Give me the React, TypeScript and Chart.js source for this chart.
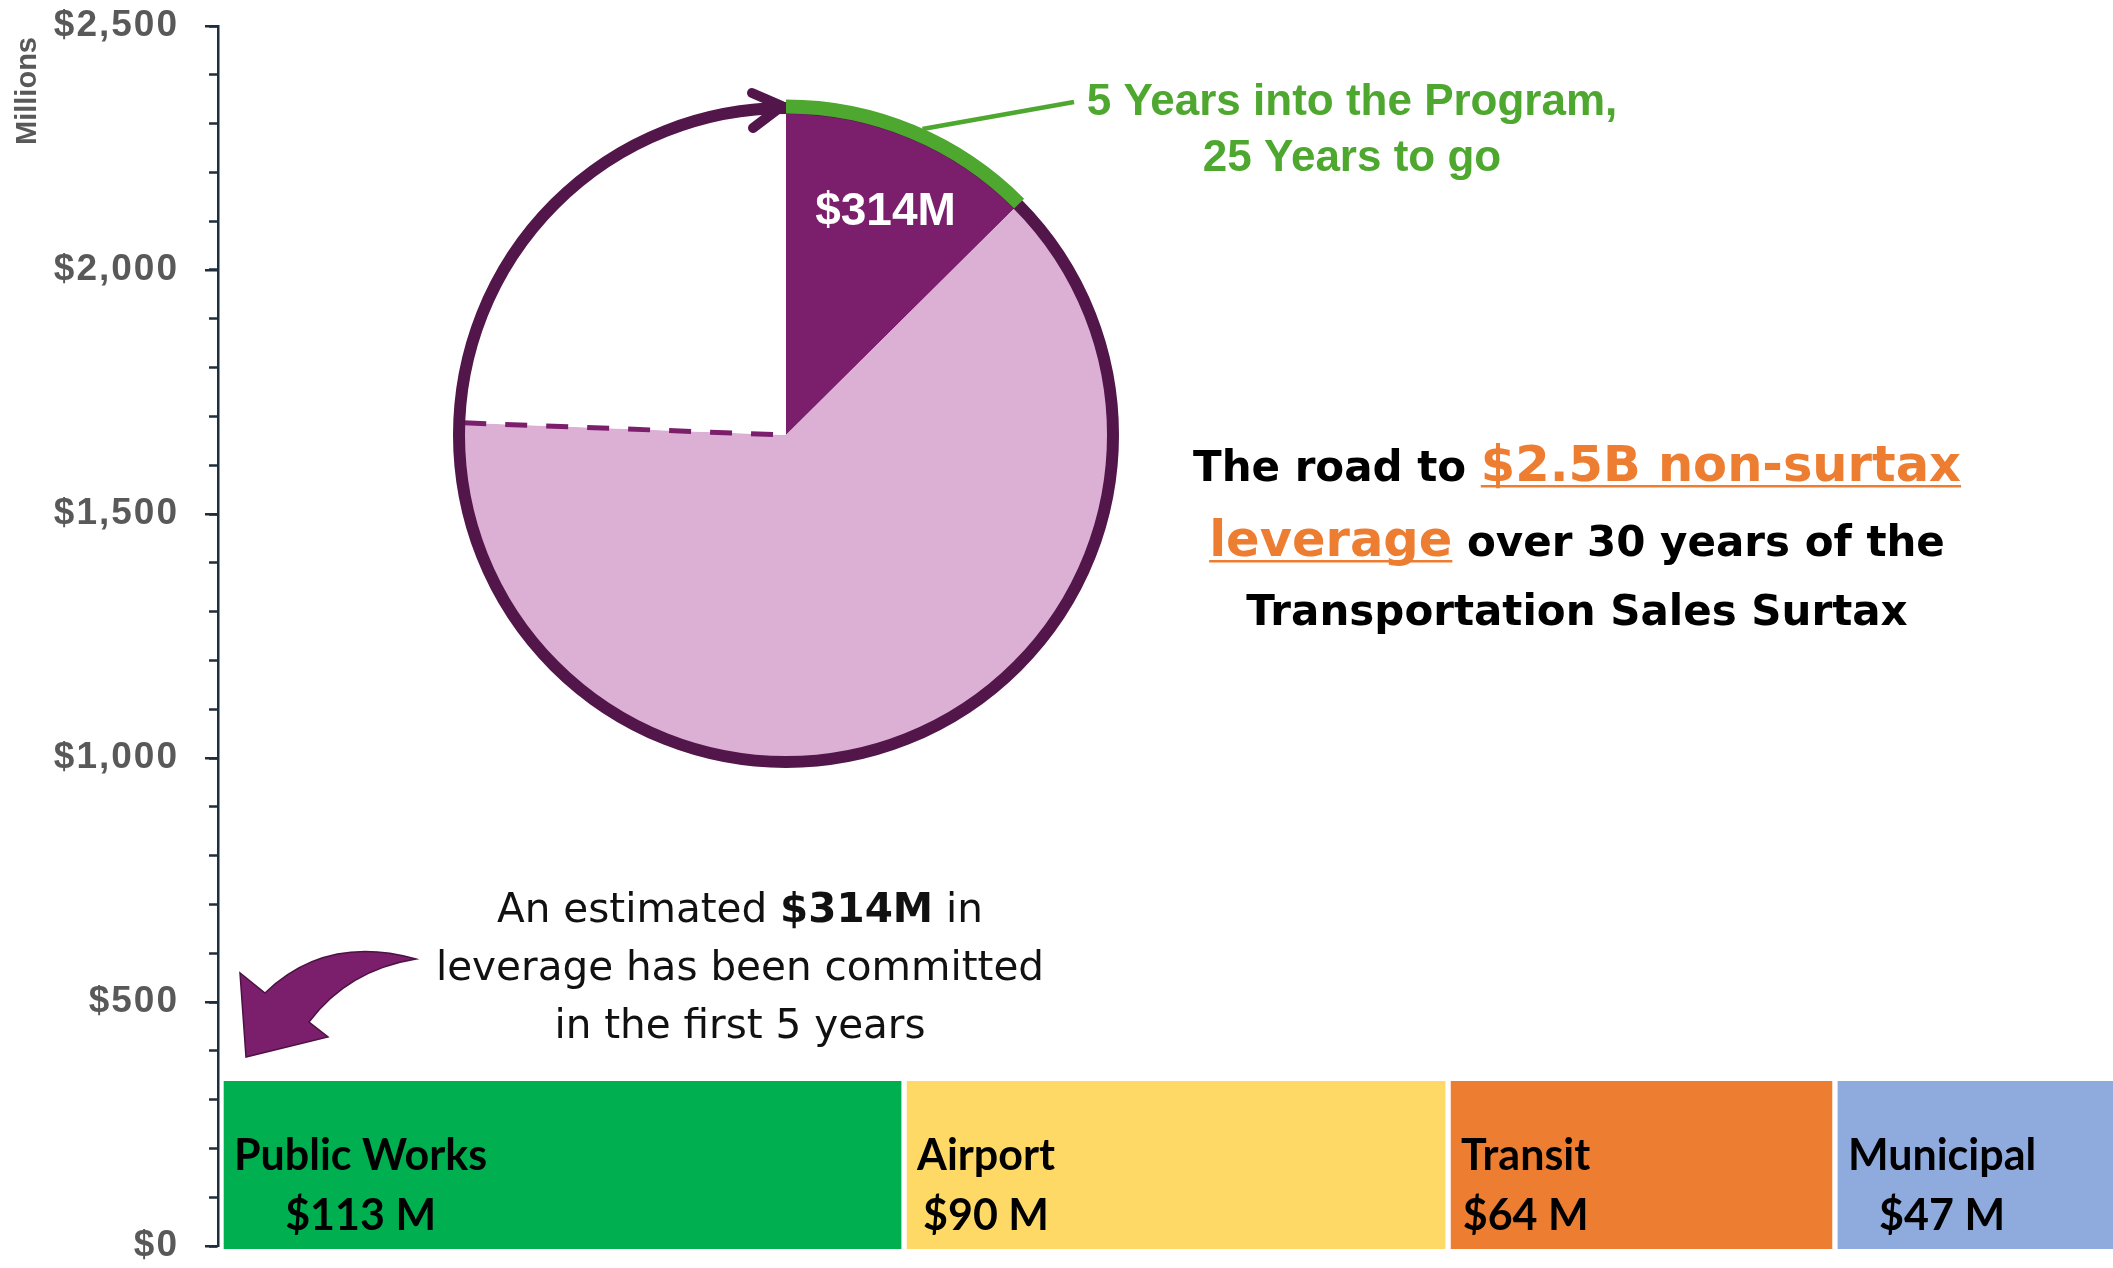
import React, { useEffect, useRef } from 'react';
import { Chart, registerables } from 'chart.js';

Chart.register(...registerables);

const W = 2113;
const H = 1268;

// ---------- data ----------
const BAR_CATEGORIES = ['Public Works', 'Airport', 'Transit', 'Municipal'];
const BAR_VALUES = [113, 90, 64, 47]; // $ millions
const BAR_COLORS = ['#00B050', '#FFD966', '#ED7D31', '#8FAADC'];

const PIE_LABELS = ['Committed (first 5 years)', 'Projected', 'Remaining'];
const PIE_VALUES = [314, 1576, 610]; // $ millions, of $2.5B
const PIE_COLORS = ['#7B1F6C', '#DCB0D5', '#FFFFFF'];

const AXIS_MIN = 0;
const AXIS_MAX = 2500;
const AXIS_MAJOR_STEP = 500;
const AXIS_MINOR_STEP = 100;
const AXIS_TITLE = 'Millions';

// vertical level (in axis units) of the centre of the committed-leverage strip
const BAR_ROW_LEVEL = 166;

const TITLE_LINES = [
  [
    { text: 'The road to ', accent: false },
    { text: '$2.5B non-surtax', accent: true },
  ],
  [
    { text: 'leverage', accent: true },
    { text: ' over 30 years of the', accent: false },
  ],
  [{ text: 'Transportation Sales Surtax', accent: false }],
];

const NOTE_LINES = [
  [
    { text: 'An estimated ', bold: false },
    { text: '$314M', bold: true },
    { text: ' in', bold: false },
  ],
  [{ text: 'leverage has been committed', bold: false }],
  [{ text: 'in the first 5 years', bold: false }],
];

const PROGRESS_LINES = ['5 Years into the Program,', '25 Years to go'];

// ---------- styles ----------
const FONT_ARIAL = "'Liberation Sans', Arial, sans-serif";
const FONT_DEJAVU = "'DejaVu Sans', sans-serif";
const FONT_LATO = "Lato, 'Liberation Sans', sans-serif";
const AXIS_COLOR = '#1F2E3D';
const TICK_TEXT = '#595959';
const RING_COLOR = '#52164B';
const GREEN = '#4EA72E';
const ORANGE = '#ED7D31';

type Run = { text: string; font: string; color: string; underline?: boolean };

function drawRuns(ctx: CanvasRenderingContext2D, runs: Run[], cx: number, baseline: number) {
  const widths = runs.map((r) => {
    ctx.font = r.font;
    return ctx.measureText(r.text).width;
  });
  const total = widths.reduce((a, b) => a + b, 0);
  let x = cx - total / 2;
  ctx.textAlign = 'left';
  ctx.textBaseline = 'alphabetic';
  runs.forEach((r, i) => {
    ctx.font = r.font;
    ctx.fillStyle = r.color;
    ctx.fillText(r.text, x, baseline);
    if (r.underline) {
      ctx.fillRect(x, baseline + 4, widths[i], 2.5);
    }
    x += widths[i];
  });
}

function setSpacing(ctx: any, v: string) {
  if ('letterSpacing' in ctx) ctx.letterSpacing = v;
}

const overlayPlugin = {
  id: 'overlay',
  beforeDraw(chart: any) {
    setSpacing(chart.ctx, '2px');
  },
  beforeDatasetsDraw(chart: any) {
    setSpacing(chart.ctx, '0px');
  },
  afterDatasetsDraw(chart: any) {
    const ctx: CanvasRenderingContext2D = chart.ctx;
    chart.data.datasets.forEach((_ds: any, i: number) => {
      const meta = chart.getDatasetMeta(i);
      const el = meta.data[0];
      if (!el) return;
      const { x, base, y } = el.getProps(['x', 'base', 'y'], true);
      const left = Math.min(x, base) + 13;
      ctx.save();
      ctx.font = `bold 43px ${FONT_LATO}`;
      ctx.fillStyle = '#000000';
      const l1 = BAR_CATEGORIES[i];
      const l2 = `$${BAR_VALUES[i]} M`;
      const bw = Math.max(ctx.measureText(l1).width, ctx.measureText(l2).width);
      ctx.textAlign = 'center';
      ctx.textBaseline = 'alphabetic';
      ctx.fillText(l1, left + bw / 2, y + 5);
      ctx.fillText(l2, left + bw / 2, y + 65);
      ctx.restore();
    });
  },
  afterDraw(chart: any) {
    const ctx: CanvasRenderingContext2D = chart.ctx;
    setSpacing(ctx, '0px');
    const ys = chart.scales.y;
    ctx.save();

    // longer major ticks
    ctx.strokeStyle = AXIS_COLOR;
    ctx.lineWidth = 2.5;
    for (let v = AXIS_MIN; v <= AXIS_MAX; v += AXIS_MAJOR_STEP) {
      const py = Math.round(ys.getPixelForValue(v) - 1.25) + 1.25;
      ctx.beginPath();
      ctx.moveTo(ys.right - 13, py);
      ctx.lineTo(ys.right, py);
      ctx.stroke();
    }

    // axis title
    ctx.save();
    ctx.translate(36, 91);
    ctx.rotate(-Math.PI / 2);
    ctx.font = `bold 29px ${FONT_ARIAL}`;
    ctx.fillStyle = TICK_TEXT;
    ctx.textAlign = 'center';
    ctx.textBaseline = 'alphabetic';
    ctx.fillText(AXIS_TITLE, 0, 0);
    ctx.restore();

    // title
    const titleBaselines = [481, 556, 625];
    TITLE_LINES.forEach((line, li) => {
      drawRuns(
        ctx,
        line.map((r) => ({
          text: r.text,
          font: r.accent ? `bold 49.5px ${FONT_DEJAVU}` : `bold 42px ${FONT_DEJAVU}`,
          color: r.accent ? ORANGE : '#000000',
          underline: r.accent,
        })),
        1577,
        titleBaselines[li]
      );
    });

    // note
    const noteBaselines = [922, 980, 1038];
    NOTE_LINES.forEach((line, li) => {
      drawRuns(
        ctx,
        line.map((r) => ({
          text: r.text,
          font: r.bold ? `bold 40.5px ${FONT_DEJAVU}` : `40.5px ${FONT_DEJAVU}`,
          color: '#111111',
        })),
        740,
        noteBaselines[li]
      );
    });

    // curved arrow
    ctx.beginPath();
    ctx.moveTo(416, 959);
    ctx.quadraticCurveTo(326, 934, 265, 993);
    ctx.lineTo(240, 973);
    ctx.lineTo(246, 1057);
    ctx.lineTo(328, 1037);
    ctx.lineTo(309, 1022);
    ctx.quadraticCurveTo(348, 970, 416, 959);
    ctx.closePath();
    ctx.fillStyle = '#7B1F6C';
    ctx.fill();
    ctx.strokeStyle = '#4D1245';
    ctx.lineWidth = 1.5;
    ctx.stroke();

    ctx.restore();
  },
};

const pieDecorPlugin = {
  id: 'pieDecor',
  afterDatasetsDraw(chart: any) {
    const ctx: CanvasRenderingContext2D = chart.ctx;
    const arcs = chart.getDatasetMeta(0).data;
    if (!arcs.length) return;
    const a0 = arcs[0].getProps(['x', 'y', 'startAngle', 'endAngle', 'outerRadius'], true);
    const a1 = arcs[1].getProps(['startAngle', 'endAngle'], true);
    const cx = a0.x;
    const cy = a0.y;
    const R = a0.outerRadius;
    const ringR = R + 5;
    ctx.save();

    // dashed boundary between projected and remaining
    const th = a1.endAngle;
    ctx.strokeStyle = PIE_COLORS[0];
    ctx.lineWidth = 5;
    ctx.setLineDash([22, 19]);
    ctx.beginPath();
    ctx.moveTo(cx + R * Math.cos(th), cy + R * Math.sin(th));
    ctx.lineTo(cx, cy);
    ctx.stroke();
    ctx.setLineDash([]);

    // outer ring
    ctx.strokeStyle = RING_COLOR;
    ctx.lineWidth = 12;
    ctx.beginPath();
    ctx.arc(cx, cy, ringR, 0, Math.PI * 2);
    ctx.stroke();

    // arrow head at the top of the ring
    const tx = cx + ringR * Math.cos(a0.startAngle) - 4;
    const ty = cy + ringR * Math.sin(a0.startAngle) - 2;
    ctx.lineWidth = 10;
    ctx.lineCap = 'round';
    ctx.lineJoin = 'round';
    ctx.beginPath();
    ctx.moveTo(tx - 30, ty - 13);
    ctx.lineTo(tx, ty);
    ctx.lineTo(tx - 29, ty + 22);
    ctx.stroke();

    // green progress arc
    ctx.strokeStyle = GREEN;
    ctx.lineWidth = 14;
    ctx.lineCap = 'butt';
    ctx.beginPath();
    ctx.arc(cx, cy, ringR + 1.5, a0.startAngle, a0.endAngle);
    ctx.stroke();

    // slice label
    const mid = (a0.startAngle + a0.endAngle) / 2;
    ctx.fillStyle = '#FFFFFF';
    ctx.font = `bold 46px ${FONT_ARIAL}`;
    ctx.textAlign = 'center';
    ctx.textBaseline = 'middle';
    ctx.fillText(`$${PIE_VALUES[0]}M`, cx + 0.755 * R * Math.cos(mid) + 6, cy + 0.755 * R * Math.sin(mid) + 2);

    // leader line
    const la = mid + 0.025;
    ctx.strokeStyle = GREEN;
    ctx.lineWidth = 4.5;
    ctx.beginPath();
    ctx.moveTo(cx + (ringR + 8) * Math.cos(la), cy + (ringR + 8) * Math.sin(la));
    ctx.lineTo(1074, 102);
    ctx.stroke();

    // progress text
    ctx.fillStyle = GREEN;
    ctx.font = `bold 44px ${FONT_ARIAL}`;
    ctx.textAlign = 'center';
    ctx.textBaseline = 'alphabetic';
    ctx.fillText(PROGRESS_LINES[0], 1352, 115);
    ctx.fillText(PROGRESS_LINES[1], 1352, 171);

    ctx.restore();
  },
};

export default function App() {
  const mainRef = useRef<HTMLCanvasElement>(null);
  const pieRef = useRef<HTMLCanvasElement>(null);

  useEffect(() => {
    if (!mainRef.current || !pieRef.current) return;

    const total = BAR_VALUES.reduce((a, b) => a + b, 0);

    const main = new Chart(mainRef.current, {
      type: 'bar',
      data: {
        datasets: BAR_CATEGORIES.map((c, i) => ({
          label: c,
          data: [{ x: BAR_VALUES[i], y: BAR_ROW_LEVEL }],
          backgroundColor: BAR_COLORS[i],
          borderColor: '#FFFFFF',
          borderWidth: { left: 3, right: 3, top: 0, bottom: 0 },
          borderSkipped: false,
          barThickness: 168,
          grouped: false,
          clip: false as any,
        })),
      } as any,
      options: {
        indexAxis: 'y',
        animation: false,
        responsive: false,
        events: [],
        layout: { padding: { top: 26, bottom: 22, left: 0, right: 0 } },
        plugins: { legend: { display: false }, tooltip: { enabled: false } },
        scales: {
          x: { type: 'linear', display: false, stacked: true, min: -0.5, max: total - 1 },
          y: {
            type: 'linear',
            position: 'left',
            offset: false,
            min: AXIS_MIN,
            max: AXIS_MAX,
            ticks: {
              stepSize: AXIS_MINOR_STEP,
              autoSkip: false,
              padding: 30,
              color: TICK_TEXT,
              font: { family: FONT_ARIAL, weight: 'bold', size: 37 },
              callback: (v: any) =>
                Number(v) % AXIS_MAJOR_STEP === 0 ? '$' + Number(v).toLocaleString('en-US') : '',
            },
            grid: {
              offset: false,
              drawOnChartArea: false,
              drawTicks: true,
              tickLength: 9,
              tickWidth: 2.5,
              tickColor: AXIS_COLOR,
            },
            border: { display: true, color: AXIS_COLOR, width: 2.5 },
            afterFit: (s: any) => {
              s.width = 218;
              s.paddingTop = 0;
              s.paddingBottom = 0;
            },
          },
        },
      } as any,
      plugins: [overlayPlugin],
    });

    const pie = new Chart(pieRef.current, {
      type: 'pie',
      data: {
        labels: PIE_LABELS,
        datasets: [{ data: PIE_VALUES, backgroundColor: PIE_COLORS, borderWidth: 0 }],
      },
      options: {
        animation: false,
        responsive: false,
        events: [],
        layout: { padding: { left: 464, top: 113, right: 1005, bottom: 511 } },
        plugins: { legend: { display: false }, tooltip: { enabled: false } },
      } as any,
      plugins: [pieDecorPlugin],
    });

    return () => {
      main.destroy();
      pie.destroy();
    };
  }, []);

  return (
    <div style={{ position: 'fixed', left: 0, top: 0, width: W, height: H, overflow: 'hidden', background: '#FFFFFF' }}>
      <canvas ref={mainRef} width={W} height={H} style={{ position: 'absolute', left: 0, top: 0, width: W, height: H }} />
      <canvas
        ref={pieRef}
        width={W}
        height={H}
        style={{ position: 'absolute', left: 0, top: 0, width: W, height: H, pointerEvents: 'none' }}
      />
    </div>
  );
}
